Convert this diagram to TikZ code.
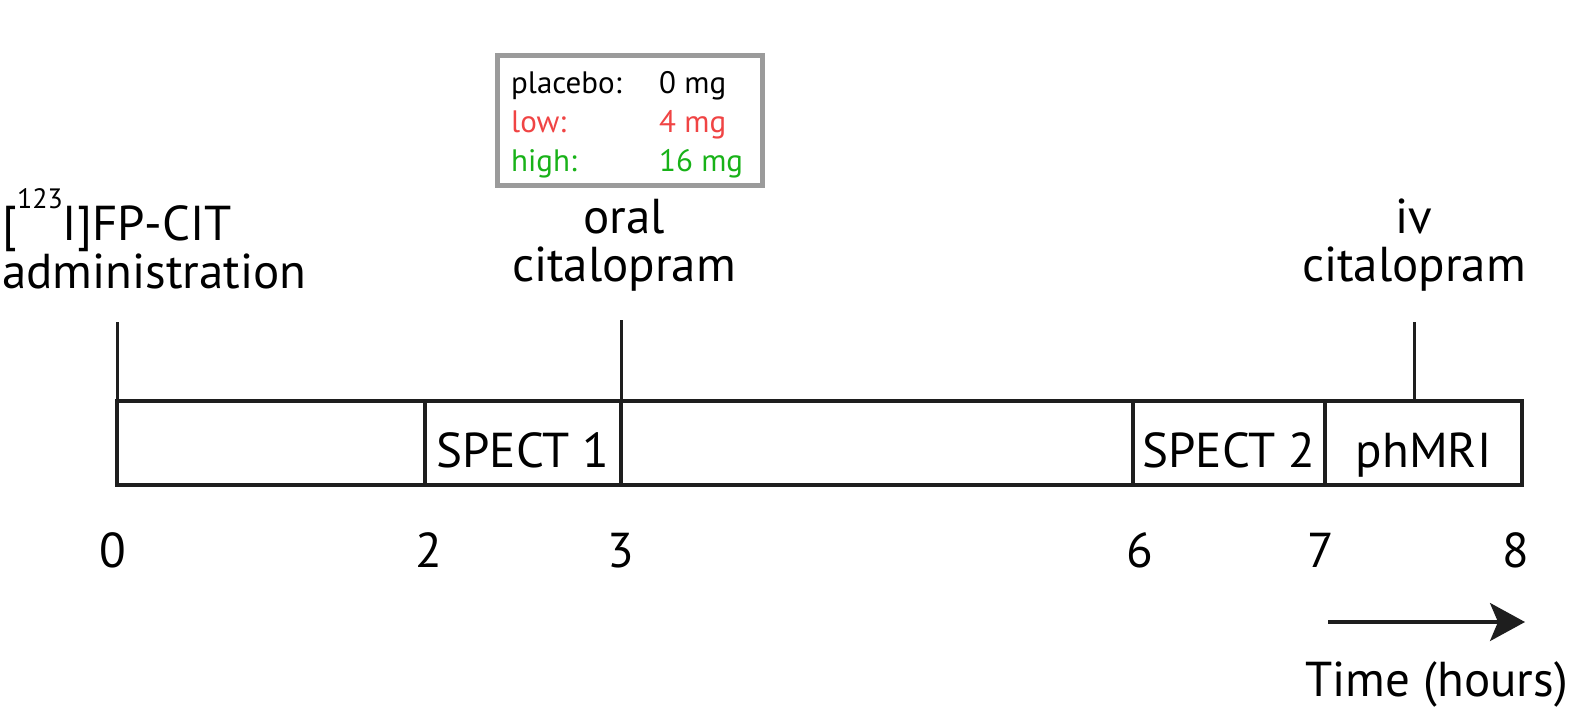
\documentclass[tikz,border=0pt]{standalone}
\usepackage{fontspec}
\setmainfont{PT Sans}
\usetikzlibrary{arrows.meta}
\definecolor{lowred}{RGB}{240,68,68}
\definecolor{highgreen}{RGB}{24,178,24}
\definecolor{boxgray}{RGB}{155,155,155}
\definecolor{ink}{RGB}{30,30,30}
\tikzset{
  big/.style={font=\fontsize{49}{48}\selectfont, inner sep=0pt, text=black},
  cell/.style={draw=ink, line width=4pt, inner sep=0pt, minimum height=84pt,
    text height=60pt, text depth=12pt, font=\fontsize{49}{48}\selectfont},
  tick/.style={draw=ink, line width=3pt},
  num/.style={big, anchor=base},
  dosebox/.style={draw=boxgray, line width=5pt, minimum width=265pt, minimum height=130pt, inner sep=0pt},
  timearrow/.style={draw=ink, line width=3.3pt, -{Stealth[length=35pt,width=38pt,inset=8pt]}}
}
\begin{document}
\begin{tikzpicture}[x=1pt,y=-1pt]
\useasboundingbox (0,0) rectangle (1573,710);
% timeline cells
\node[cell, minimum width=308pt] (c1) at (271,443) {};
\node[cell, minimum width=196pt] (c2) at (523,443) {SPECT 1};
\node[cell, minimum width=512pt] (c3) at (877,443) {};
\node[cell, minimum width=192pt] (c4) at (1229,443) {SPECT 2};
\node[cell, minimum width=197pt] (c5) at (1423.5,443) {phMRI};
% ticks
\coordinate (t1) at (117.5,322);
\coordinate (t2) at (621,320);
\coordinate (t3) at (1414,322);
\draw[tick] (t1) -- (t1 |- c1.north);
\draw[tick] (t2) -- (t2 |- c2.north);
\draw[tick] (t3) -- (t3 |- c5.north);
% event labels (base = last line)
\node[big, anchor=base west, align=left] (fp) at (2,288)
  {[\raisebox{32pt}{\fontsize{28}{28}\selectfont 123}I]FP-CIT\\administration};
\node[big, anchor=base, align=center] (oral) at (624,281) {oral\\citalopram};
\node[big, anchor=base, align=center] (iv) at (1414,281) {iv\\citalopram};
% dose box
\node[dosebox] (dose) at (629.5,120.5) {};
\node[anchor=base west, inner sep=0pt, font=\fontsize{31}{39}\selectfont] (dosetext) at (511,93)
  {\begin{tabular}[t]{@{}p{148pt}@{}l@{}}
   placebo: & 0 mg\\
   \textcolor{lowred}{low:} & \textcolor{lowred}{4 mg}\\
   \textcolor{highgreen}{high:} & \textcolor{highgreen}{16 mg}
   \end{tabular}};
% hour numbers
\node[num] (h0) at (113,567) {0};
\node[num] (h2) at (429,567) {2};
\node[num] (h3) at (621,567) {3};
\node[num] (h6) at (1140,567) {6};
\node[num] (h7) at (1321,567) {7};
\node[num] (h8) at (1516,567) {8};
% time arrow
\coordinate (ta) at (1328,622);
\coordinate (tb) at (1525,622);
\draw[timearrow] (ta) -- (tb);
\node[big, anchor=base east] (timelabel) at (1568,696) {Time (hours)};
\end{tikzpicture}
\end{document}
